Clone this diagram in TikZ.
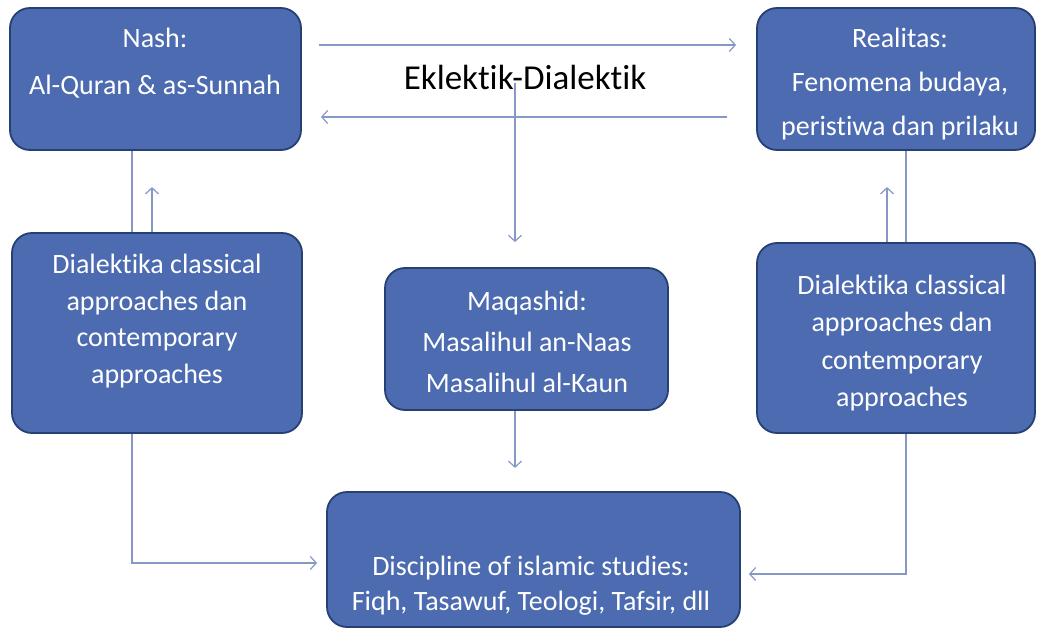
\documentclass[tikz,border=0pt]{standalone}
\usepackage{fontspec}
\setmainfont{Carlito}[Ligatures=NoCommon]
\usetikzlibrary{arrows.meta,backgrounds}
\definecolor{boxfill}{RGB}{76,107,176}
\definecolor{boxdraw}{RGB}{38,64,115}
\definecolor{conn}{RGB}{135,152,198}
\begin{document}
\begin{tikzpicture}[x=1pt,y=-1pt,
  box/.style={draw=boxdraw, line width=1.8pt, fill=boxfill, rounded corners=20pt, inner sep=0pt},
  txt/.style={text=white, align=center, inner sep=0pt, font=\fontsize{28pt}{#1}\selectfont},
  arr/.style={draw=conn, line width=1.3pt, -{Straight Barb[length=6pt,width=13pt,line width=1.2pt]}},
  ln/.style={draw=conn, line width=1.3pt}]
\useasboundingbox (0,0) rectangle (1040,631);

% boxes
\node[box, minimum width=291pt, minimum height=142pt] (nash) at (155.5,79) {};
\node[box, minimum width=278pt, minimum height=142pt] (real) at (896,79) {};
\node[box, minimum width=290pt, minimum height=200pt] (dialL) at (157,333) {};
\node[box, minimum width=278pt, minimum height=190pt] (dialR) at (896,338) {};
\node[box, minimum width=283pt, minimum height=142pt] (maq) at (526.5,339) {};
\node[box, minimum width=413pt, minimum height=135pt] (disc) at (533.5,559.5) {};

% texts
\node[txt=47pt] (nashT) at (155,63) {Nash:\\Al-Quran \& as-Sunnah};
\node[txt=44pt] (realT) at (900,84) {Realitas:\\Fenomena budaya,\\peristiwa dan prilaku};
\node[txt=36.5pt] (dialLT) at (157,321) {Dialektika classical\\approaches dan\\contemporary\\approaches};
\node[txt=37.5pt] (dialRT) at (902,343) {Dialektika classical\\approaches dan\\contemporary\\approaches};
\node[txt=41pt] (maqT) at (527,342) {Maqashid:\\Masalihul an-Naas\\Masalihul al-Kaun};
\node[txt=35pt] (discT) at (531,586) {Discipline of islamic studies:\\Fiqh, Tasawuf, Teologi, Tafsir, dll};
\node[inner sep=0pt, text=black, font=\fontsize{35pt}{40pt}\selectfont] (ek) at (525,77) {Eklektik-Dialektik};

% connectors
\begin{scope}[on background layer]
\draw[arr] ([xshift=17pt,yshift=34pt]nash.east) -- ([xshift=-20pt,yshift=34pt]real.west);
\draw[arr] ([xshift=-29pt,yshift=-38pt]real.west) -- ([xshift=19pt,yshift=-38pt]nash.east);
\draw[arr] ([xshift=-10pt,yshift=-6pt]ek.center) -- ([xshift=-11.5pt,yshift=25pt]maq.north);
\draw[arr] ([xshift=-11.5pt]maq.south) -- ++(0,57);
\draw[arr] ([xshift=-23.5pt]nash.south) |- ([xshift=-9pt,yshift=-3.5pt]disc.west);
\draw[arr] ([xshift=-5pt]dialL.north) -- ++(0,-45);
\draw[arr] ([xshift=10pt]real.south) |- ([xshift=8pt,yshift=-14.5pt]disc.east);
\draw[arr] ([xshift=-9pt]dialR.north) -- ++(0,-55);
\end{scope}
\end{tikzpicture}
\end{document}
